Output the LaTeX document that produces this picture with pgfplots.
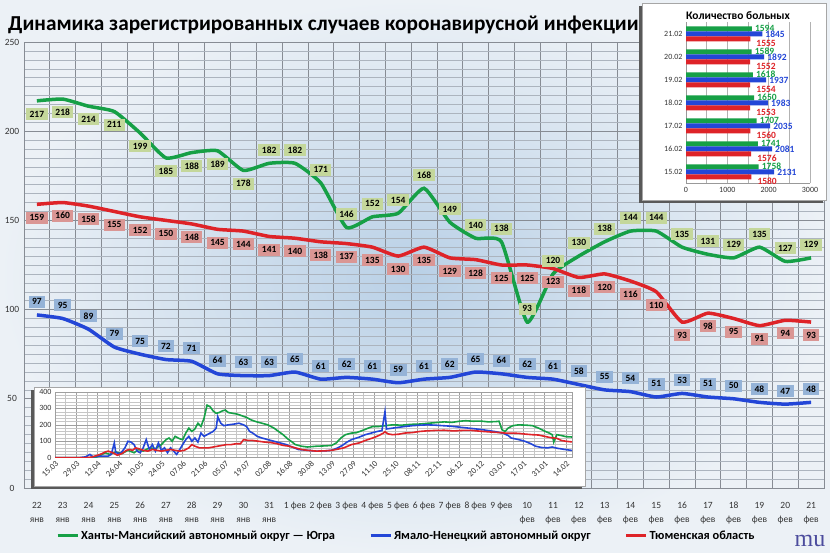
\documentclass[border=0pt]{standalone}
\usepackage{pgfplots}
\pgfplotsset{compat=1.18}
\usepackage{pgfplotstable}
\usepackage{fontspec}
\setmainfont{Carlito}
\newfontfamily\mufont{Liberation Serif}

\definecolor{cgreen}{RGB}{22,160,70}
\definecolor{cblue}{RGB}{35,70,215}
\definecolor{cred}{RGB}{222,35,40}
\definecolor{lgreen}{RGB}{196,215,155}
\definecolor{lblue}{RGB}{149,179,215}
\definecolor{lred}{RGB}{218,150,148}
\definecolor{gridc}{RGB}{135,140,148}
\definecolor{gridm}{RGB}{172,180,190}
\definecolor{bgin}{RGB}{185,208,230}
\definecolor{bgout}{RGB}{236,241,246}

\newcommand\tl[2]{\strut#1\\#2}

\pgfplotstableread{
x g b r
0 217 97 159
1 218 95 160
2 214 89 158
3 211 79 155
4 199 75 152
5 185 72 150
6 188 71 148
7 189 64 145
8 178 63 144
9 182 63 141
10 182 65 140
11 171 61 138
12 146 62 137
13 152 61 135
14 154 59 130
15 168 61 135
16 149 62 129
17 140 65 128
18 138 64 125
19 93 62 125
20 120 61 123
21 130 58 118
22 138 55 120
23 144 54 116
24 144 51 110
25 135 53 93
26 131 51 98
27 129 50 95
28 135 48 91
29 127 47 94
30 129 48 93
}\maindata

\pgfplotstableread{
d v
0 0
20 0
27 2
30 15
33 30
36 20
40 35
44 25
48 45
52 30
55 50
58 40
62 60
66 55
70 80
73 110
75 120
77 100
79 130
82 115
84 110
86 150
88 180
90 160
92 175
94 210
96 190
98 240
100 320
102 310
104 285
106 270
108 275
110 285
112 290
114 275
117 270
120 265
123 255
126 245
129 230
132 220
136 210
140 200
144 180
147 160
150 140
153 115
156 95
158 80
162 70
166 65
172 70
178 72
182 75
185 90
188 120
191 140
195 150
198 152
202 165
206 180
209 190
213 190
217 195
222 200
228 198
234 203
240 205
246 210
252 215
256 218
261 215
266 222
270 225
275 222
280 223
285 218
290 220
292 222
294 170
296 160
298 180
301 195
305 200
310 198
314 195
318 180
322 162
325 150
327 140
328 95
330 140
333 135
336 128
340 126
}\ingreen

\pgfplotstableread{
d v
0 0
16 0
20 5
23 20
25 5
30 10
35 10
37 20
39 90
40 30
43 25
46 60
48 100
50 95
52 80
54 40
56 30
58 60
60 110
62 50
64 80
66 40
68 90
70 45
72 60
74 30
76 60
78 40
80 20
82 50
84 80
86 110
88 130
90 100
92 120
94 95
96 150
98 130
100 140
102 150
104 160
106 180
107 250
109 210
111 195
114 200
118 205
121 210
124 200
126 190
128 160
130 150
133 130
136 120
140 110
144 100
148 90
152 80
156 65
160 50
166 45
172 40
178 42
182 45
186 60
189 75
192 95
195 110
200 125
204 140
208 150
212 160
215 165
217 280
218 175
222 180
226 185
230 190
235 195
240 198
245 200
250 198
255 195
260 192
265 187
270 182
275 177
280 172
285 165
290 158
295 148
298 135
300 120
305 110
309 100
313 85
316 70
320 62
324 60
327 65
330 58
334 52
337 48
340 44
}\inblue

\pgfplotstableread{
d v
0 0
20 0
24 3
28 15
31 25
33 35
35 40
38 30
41 15
44 25
47 45
49 50
51 45
53 60
55 55
58 45
61 40
64 50
67 45
70 40
73 45
76 50
79 45
82 40
85 45
88 60
90 80
92 70
95 60
98 60
101 60
104 65
107 70
110 75
113 80
116 80
119 85
122 85
124 110
127 105
130 105
134 100
138 95
142 92
146 85
150 75
154 70
158 60
162 50
166 45
172 40
178 42
182 45
186 52
190 60
195 80
200 90
204 105
209 120
213 135
216 150
217 158
219 145
222 140
226 143
230 150
235 153
240 160
244 163
250 166
256 167
262 163
268 166
274 166
280 161
287 156
292 153
296 150
300 150
305 148
310 143
314 140
318 138
322 130
326 122
330 118
333 105
336 100
340 96
}\inred

\begin{document}
\begin{tikzpicture}
\useasboundingbox (0pt,0pt) rectangle (830pt,553pt);
\shade[inner color=bgin, outer color=bgout] (0pt,0pt) rectangle (830pt,553pt);

% ---------------- main chart ----------------
\begin{axis}[
  at={(24pt,65pt)}, anchor=south west,
  scale only axis, width=800pt, height=446pt,
  xmin=-0.5, xmax=30.5, ymin=0, ymax=250,
  xtick={0,...,30},
  xticklabels={{\tl{22}{янв}},{\tl{23}{янв}},{\tl{24}{янв}},{\tl{25}{янв}},{\tl{26}{янв}},{\tl{27}{янв}},{\tl{28}{янв}},{\tl{29}{янв}},{\tl{30}{янв}},{\tl{31}{янв}},
    {\strut 1 фев},{\strut 2 фев},{\strut 3 фев},{\strut 4 фев},{\strut 5 фев},{\strut 6 фев},{\strut 7 фев},{\strut 8 фев},{\strut 9 фев},
    {\tl{10}{фев}},{\tl{11}{фев}},{\tl{12}{фев}},{\tl{13}{фев}},{\tl{14}{фев}},{\tl{15}{фев}},{\tl{16}{фев}},{\tl{17}{фев}},{\tl{18}{фев}},{\tl{19}{фев}},{\tl{20}{фев}},{\tl{21}{фев}}},
  minor xtick={-0.5,0.5,...,30.5},
  ytick={0,50,...,250},
  minor y tick num=9,
  xminorgrids, ymajorgrids, yminorgrids,
  minor x grid style={gridc, line width=0.7pt},
  major y grid style={gridc, line width=0.7pt},
  minor y grid style={gridm, line width=0.45pt},
  axis line style={gridc, line width=0.7pt},
  major tick length=0pt, minor tick length=0pt,
  /pgf/number format/assume math mode=true,
  xticklabel style={align=center, anchor=north, yshift=-7pt, text=black!80,
    font=\fontsize{9.5}{14}\selectfont},
  yticklabel style={anchor=center, xshift=-12pt, text=black!80,
    font=\fontsize{9.5}{10}\selectfont},
  legend style={at={(0.04,-0.107)}, anchor=west, draw=none, fill=none,
    legend columns=3, font=\bfseries\fontsize{12.4}{13}\selectfont,
    /tikz/every even column/.append style={column sep=32pt},
    inner sep=0pt},
  legend image code/.code={\draw[#1, line width=3pt] (0pt,0pt) -- (20pt,0pt);},
  legend cell align=left,
]
\addplot[cgreen, line width=3.5pt, smooth, tension=0.3] table[x=x,y=g]{\maindata};
\addlegendentry{Ханты-Мансийский автономный округ — Югра}
\addplot[cblue, line width=3.5pt, smooth, tension=0.3] table[x=x,y=b]{\maindata};
\addlegendentry{Ямало-Ненецкий автономный округ}
\addplot[cred, line width=3.5pt, smooth, tension=0.3] table[x=x,y=r]{\maindata};
\addlegendentry{Тюменская область}

\pgfplotsset{lab/.style={draw=none, forget plot, nodes near coords,
  every node near coord/.append style={fill=#1, text=black, font=\bfseries\fontsize{9.5}{10}\selectfont,
  inner xsep=3.5pt, inner ysep=2pt, minimum height=12pt}}}
\addplot[lab=lgreen, restrict x to domain=0:8, nodes near coords align={below=7pt}] table[x=x,y=g]{\maindata};
\addplot[lab=lgreen, restrict x to domain=9:30, nodes near coords align={above=7pt}] table[x=x,y=g]{\maindata};
\addplot[lab=lred, nodes near coords align={below=7pt}] table[x=x,y=r]{\maindata};
\addplot[lab=lblue, nodes near coords align={above=7pt}] table[x=x,y=b]{\maindata};
\end{axis}

% ---------------- inset line chart ----------------
\fill[black!65] (31pt,64pt) rectangle (582pt,163pt);
\fill[white] (34pt,67pt) rectangle (585pt,166pt);
\draw[gray!70] (34pt,67pt) rectangle (585pt,166pt);
\begin{axis}[
  at={(55pt,95.3pt)}, anchor=south west,
  scale only axis, width=517pt, height=65.7pt,
  xmin=0, xmax=340, ymin=0, ymax=400,
  xtick={0,14,...,336},
  xticklabels={15.03,29.03,12.04,26.04,10.05,24.05,07.06,21.06,05.07,19.07,02.08,16.08,30.08,13.09,27.09,11.10,25.10,08.11,22.11,06.12,20.12,03.01,17.01,31.01,14.02},
  minor x tick num=1,
  ytick={0,100,...,400}, minor y tick num=4,
  xmajorgrids, xminorgrids, ymajorgrids, yminorgrids,
  major grid style={gray!75, line width=0.5pt},
  minor grid style={gray!45, line width=0.4pt},
  axis line style={gray!75},
  major tick length=0pt, minor tick length=0pt,
  /pgf/number format/assume math mode=true,
  xticklabel style={rotate=45, anchor=north east, font=\fontsize{8.5}{9}\selectfont, text=black!80, inner sep=1.5pt},
  yticklabel style={font=\fontsize{8}{9}\selectfont, text=black!80},
]
\addplot[cgreen, line width=1.6pt] table[x=d,y=v]{\ingreen};
\addplot[cblue, line width=1.6pt] table[x=d,y=v]{\inblue};
\addplot[cred, line width=1.6pt] table[x=d,y=v]{\inred};
\end{axis}

% ---------------- title ----------------
\node[anchor=base west, inner sep=0pt] at (8pt,522.3pt)
  {\bfseries\fontsize{21.3}{21}\selectfont Динамика зарегистрированных случаев коронавирусной инфекции};

% ---------------- inset bar chart ----------------
\fill[black!65] (639pt,350pt) rectangle (823pt,547pt);
\fill[white] (642pt,353pt) rectangle (826pt,550pt);
\draw[gray!70] (642pt,353pt) rectangle (826pt,550pt);
\node at (738pt,537pt) {\bfseries\fontsize{11.5}{12}\selectfont Количество больных};
\begin{axis}[
  at={(686pt,369.5pt)}, anchor=south west,
  scale only axis, width=124pt, height=161pt,
  xbar, bar width=5pt,
  xmin=0, xmax=3000, ymin=-0.5, ymax=6.5,
  ytick={0,...,6}, yticklabels={15.02,16.02,17.02,18.02,19.02,20.02,21.02},
  xtick={0,1000,2000,3000}, minor x tick num=1,
  scaled x ticks=false,
  /pgf/number format/1000 sep={},
  /pgf/number format/assume math mode=true,
  xmajorgrids, xminorgrids,
  major grid style={gray!60, line width=0.5pt},
  minor grid style={gray!60, line width=0.5pt},
  axis lines*=left,
  axis line style={gray!80},
  major tick length=0pt, minor tick length=0pt,
  tick label style={font=\fontsize{8}{9}\selectfont, text=black!80},
  nodes near coords,
  nodes near coords align={anchor=west},
]
\addplot[fill=cgreen, draw=none, bar shift=5pt,
  every node near coord/.append style={text=cgreen, font=\bfseries\fontsize{9.5}{10}\selectfont, inner sep=1pt, xshift=2pt, yshift=1pt}]
  coordinates {(1758,0) (1741,1) (1707,2) (1650,3) (1618,4) (1589,5) (1594,6)};
\addplot[fill=cblue, draw=none, bar shift=0pt,
  every node near coord/.append style={text=cblue, font=\bfseries\fontsize{9.5}{10}\selectfont, inner sep=1pt, xshift=2pt}]
  coordinates {(2131,0) (2081,1) (2035,2) (1983,3) (1937,4) (1892,5) (1845,6)};
\addplot[fill=cred, draw=none, bar shift=-5pt,
  every node near coord/.append style={text=cred, font=\bfseries\fontsize{9.5}{10}\selectfont, inner sep=1pt, xshift=5pt, yshift=-4pt}]
  coordinates {(1580,0) (1576,1) (1560,2) (1553,3) (1554,4) (1552,5) (1555,6)};
\end{axis}

% ---------------- logo ----------------
\node[anchor=center, text=blue!45!black!70, inner sep=0pt] at (810pt,12pt) {\mufont\fontsize{24}{24}\selectfont mu};
\end{tikzpicture}
\end{document}
